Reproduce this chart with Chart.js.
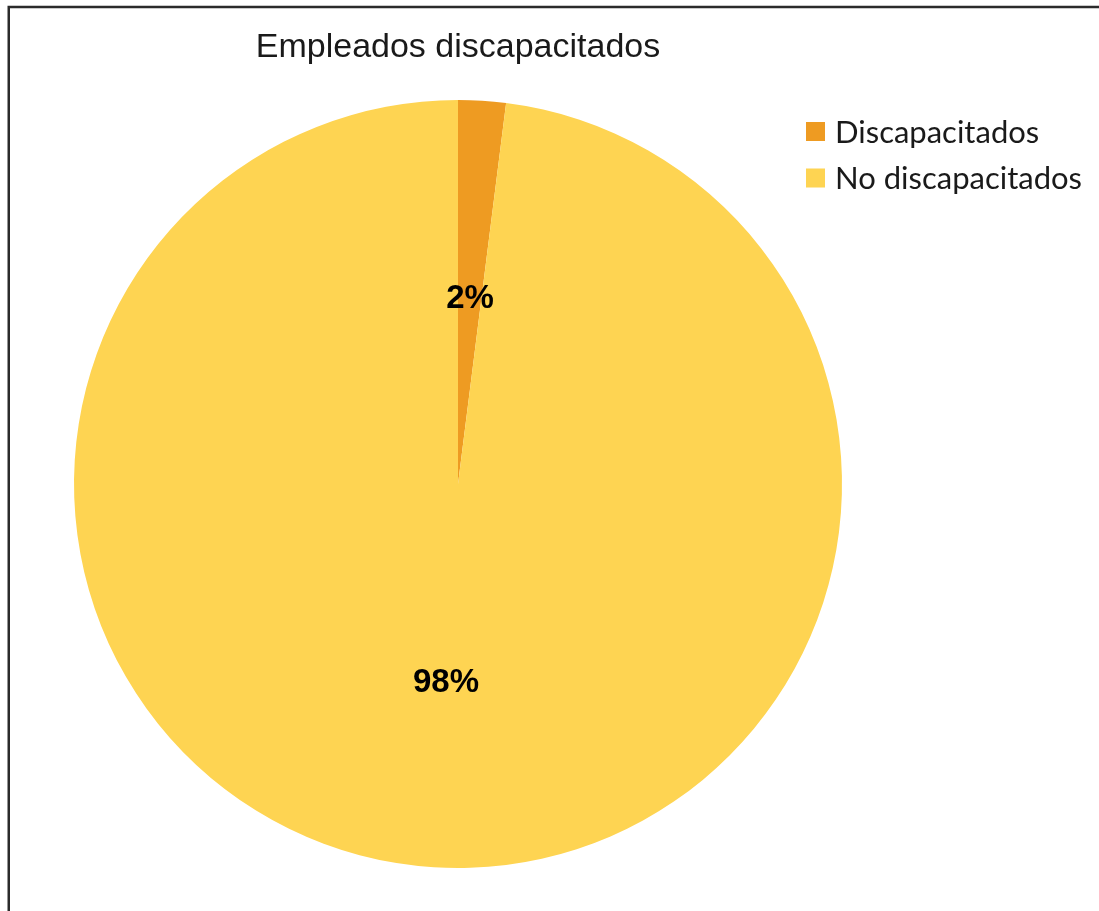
<!DOCTYPE html>
<html>
<head>
<meta charset="utf-8">
<script src="https://cdn.jsdelivr.net/npm/chart.js@4/dist/chart.umd.min.js"></script>
<style>
html,body{margin:0;padding:0;background:#fff;}
#wrap{position:relative;width:1099px;height:911px;}
</style>
</head>
<body>
<div id="wrap"><canvas id="c" width="1099" height="911"></canvas></div>
<script>
const titleText = "Empleados discapacitados";
const categories = ["Discapacitados", "No discapacitados"];
const values = [2, 98];
const percentLabels = ["2%", "98%"];
const colors = ["#EE9B22", "#FED452"];

const overlay = {
  id: 'overlay',
  afterDraw(chart) {
    const ctx = chart.ctx;
    ctx.save();
    // frame
    ctx.strokeStyle = '#2b2b2b';
    ctx.lineWidth = 2.5;
    ctx.beginPath();
    ctx.moveTo(8.75, 911);
    ctx.lineTo(8.75, 7);
    ctx.lineTo(1099, 7);
    ctx.stroke();
    // title
    ctx.fillStyle = '#1a1a1a';
    ctx.font = '34px "Liberation Sans", Arial, sans-serif';
    ctx.textAlign = 'center';
    ctx.textBaseline = 'alphabetic';
    ctx.fillText(titleText, 458, 57);
    // legend
    ctx.textAlign = 'left';
    ctx.textBaseline = 'middle';
    ctx.font = '31px Lato, "Open Sans", sans-serif';
    categories.forEach((c, i) => {
      const y = 131.5 + i * 46.5;
      ctx.fillStyle = colors[i];
      ctx.fillRect(806, y - 9.5, 19, 19);
      ctx.fillStyle = '#1a1a1a';
      ctx.fillText(c, 835, y + 1);
    });
    // slice labels
    const meta = chart.getDatasetMeta(0);
    ctx.font = 'bold 33px "Liberation Sans", Arial, sans-serif';
    ctx.textAlign = 'center';
    ctx.textBaseline = 'middle';
    ctx.fillStyle = '#000';
    meta.data.forEach((arc, i) => {
      const p = arc.getProps(['x','y','startAngle','endAngle','outerRadius'], true);
      const mid = (p.startAngle + p.endAngle) / 2;
      const r = p.outerRadius * 0.5;
      ctx.fillText(percentLabels[i], p.x + Math.cos(mid) * r, p.y + Math.sin(mid) * r + 7);
    });
    ctx.restore();
  }
};

new Chart(document.getElementById('c'), {
  type: 'pie',
  data: {
    labels: categories,
    datasets: [{
      data: values,
      backgroundColor: colors,
      borderWidth: 0,
      hoverOffset: 0
    }]
  },
  options: {
    responsive: false,
    animation: false,
    layout: { padding: { left: 73, right: 256, top: 100, bottom: 43 } },
    plugins: {
      legend: { display: false },
      title: { display: false },
      tooltip: { enabled: false }
    }
  },
  plugins: [overlay]
});
</script>
</body>
</html>
